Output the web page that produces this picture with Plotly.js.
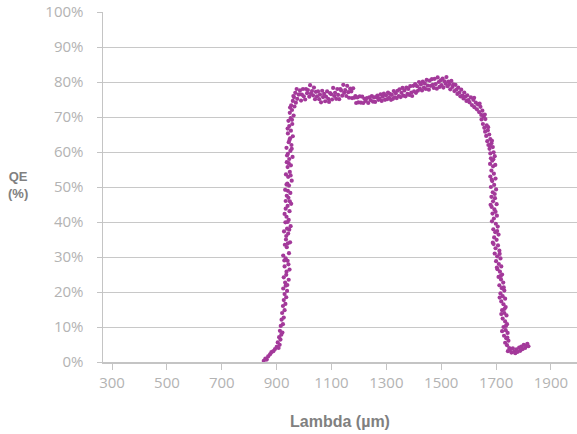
<!DOCTYPE html>
<html>
<head>
<meta charset="utf-8">
<script src="https://cdn.plot.ly/plotly-3.0.1.min.js"></script>
<style>html,body{margin:0;padding:0;background:#fff;}#chart{width:577px;height:434px;}</style>
</head>
<body>
<div id="chart"></div>
<script>
// Rising edge (wavelength, QE %)
const riseX = [853,859,864,869,876,881,888,894,900,907,911,904,914,909,917,912,921,915,923,918,926,920,929,923,932,926,935,929,938,924,933,
931,944,926,936,947,929,940,933,924,945,937,930,949,934,942,927,938,951,932,944,936,929,947,940,953,933,943,937,950,931,945,939,955,942,934,948,940,952,937,946,958,941,950,936,954,944,949,959,941,952,946,957,943,951,962,948,956,953,965,959,970,963,975,968,980,985,973,
939,935,943,928,941,935,946,940,933,948,941,936,951,944,938,955,947,940,956,949,961];
const riseY = [0.3,1.0,0.7,1.6,2.2,2.8,3.1,3.7,4.3,4.0,4.9,5.6,6.4,7.1,7.8,8.9,8.4,10.3,10.8,12.1,12.7,14.0,14.8,16.0,16.6,17.7,18.5,19.4,20.3,21.0,21.8,
22.7,23.5,24.2,25.8,26.4,27.3,28.9,29.6,30.4,31.1,32.8,33.5,34.2,35.0,36.7,37.3,38.1,38.8,39.9,40.6,41.5,42.3,43.1,44.6,45.2,46.0,46.9,47.5,48.3,49.2,50.4,51.0,51.8,52.9,53.6,54.3,55.7,56.2,57.1,58.0,58.6,59.5,60.3,61.2,62.0,62.8,63.9,64.5,65.3,66.1,67.4,68.0,68.9,69.7,70.4,71.2,72.0,73.3,73.0,74.6,74.1,75.7,75.2,76.9,76.4,77.6,78.0,
22.0,24.9,27.9,29.0,33.9,36.0,37.8,40.0,43.8,45.9,48.9,50.7,53.3,56.8,59.0,60.9,63.4,66.7,69.2,72.7,76.0];

// Plateau
const plateauX = [985,989,992,996,999,1004,1007,1011,1014,1019,1022,1025,1029,1033,1036,1040,1043,1047,1051,1055,1058,1062,1066,1069,1073,1077,1080,1084,1088,1091,1095,1099,1102,1106,1110,1113,1117,1121,1124,1128,1132,1135,1139,1143,1146,1150,1154,1157,1161,1164,1168,1172,1175,1179,1183,1187,1190,1194,1198,1203,1207,1212,1216,1220,1225,1229,1234,1238,1243,1247,1251,1255,1259,1263,1267,1271,1275,1279,1283,1287,1291,1295,1299,1303,1306,1310,1313,1317,1320,1324,1327,1331,1334,1338,1341,1345,1348,1352,1355,1359,1362,1366,1370,1373,1377,1380,1384,1387,1391,1394,1398,1401,1405,1408,1412,1415,1419,1422,1426,1430,1433,1437,1440,1444,1447,1451,1455,1458,1462,1466,1469,1473,1476,1480,1484,1487,1491,1494,1498,1501,1505,1508,1512,1516,1519,1523,1526,1530,1533,1537,1541,1544,1548,1552,1555,1559,1562,1566,1570,1573,1577,1581,1584,1588,1592,1595,1599];
const plateauY = [76.5,74.7,76.4,78.0,75.9,75.0,78.0,76.8,77.7,75.8,79.1,76.7,77.4,76.2,78.4,75.1,77.2,75.9,77.3,75.1,76.4,74.2,77.5,75.7,76.6,74.5,75.8,77.3,75.2,74.3,76.8,76.5,75.0,78.3,76.0,76.9,75.2,78.0,76.3,75.1,78.0,77.6,76.1,79.2,76.9,77.7,76.0,78.9,77.1,75.5,78.1,77.3,75.4,78.2,75.5,76.0,74.0,75.6,74.2,75.9,74.1,75.8,74.0,75.2,74.6,75.4,74.0,75.6,74.8,76.0,74.4,75.6,74.3,75.7,76.1,74.9,75.3,76.5,74.6,75.8,76.7,74.9,76.2,75.1,77.0,75.5,76.6,74.9,76.3,75.2,77.4,75.6,76.8,75.4,77.5,76.0,77.9,75.7,76.9,78.3,76.1,77.6,75.9,78.4,76.6,78.0,76.3,78.8,77.0,76.0,78.9,77.3,79.4,76.9,78.8,77.5,80.0,78.1,79.3,77.6,80.1,78.4,79.6,78.0,80.6,79.0,77.8,80.4,78.9,80.8,79.2,78.3,80.9,79.4,78.1,81.3,80.0,78.6,80.5,79.1,81.0,78.4,80.2,79.5,81.4,78.8,80.1,79.4,77.9,80.3,78.6,79.3,77.4,79.2,77.8,76.6,78.4,77.0,75.9,77.8,76.1,75.3,77.0,75.8,74.6,76.2,74.8];

// Falling edge and tail
const fallX = [1603,1608,1612,1617,1621,1626,1630,1634,1638,1643,1646,1650,1647,1655,1652,1661,1657,1666,1660,1670,1664,1675,1668,1679,1672,1683,1676,1688,1679,1691,1681,1686,1695,1678,1689,1697,1683,1692,1679,1698,1686,1693,1681,1700,1688,1683,1696,1689,1702,1684,1694,1687,1703,1692,1685,1699,1706,1690,1697,1709,1693,1702,1688,1707,1698,1712,1695,1704,1716,1700,1710,1719,1705,1714,1722,1709,1718,1726,1712,1721,1730,1716,1724,1733,1719,1727,1735,1722,1730,1738,1724,1733,1740,1727,1735,1742,1729,1737,1745,1733,1740,1748,1743,1751,1756,1761,1766,1770,1774,1779,1784,1788,1792,1797,1801,1806,1810,1814,1818,
1620,1640,1659,1671,1685,1677,1690,1684,1695,1680,1698,1704,1691,1713,1703,1717,1728,1713,1731,1719,1736,1722,1741];
const fallY = [74.2,75.6,73.4,74.9,72.8,74.1,72.2,73.6,71.4,72.9,70.6,71.8,69.3,70.1,68.0,69.4,66.9,67.6,65.8,66.2,64.6,65.0,63.1,63.7,62.0,62.5,60.9,61.4,59.6,59.9,58.2,57.5,58.8,56.6,55.9,56.3,54.7,53.8,53.0,52.4,51.7,50.6,50.0,49.3,48.5,47.2,46.8,45.9,45.1,44.3,43.6,42.4,41.8,41.0,40.2,39.5,38.7,37.9,37.1,36.4,35.6,34.9,34.1,33.3,32.5,31.8,31.0,30.2,29.6,28.8,28.0,27.3,26.5,25.8,25.0,24.3,23.6,22.7,21.9,21.1,20.4,19.6,18.8,18.1,17.3,16.5,15.7,14.8,14.0,13.3,12.4,11.6,10.8,10.0,9.1,8.3,7.5,6.8,6.1,5.5,4.8,4.0,3.1,3.5,2.7,3.9,3.0,2.5,3.6,2.9,4.1,3.2,4.4,3.7,4.9,4.0,4.6,5.2,4.5,
75.5,73.8,70.7,67.1,63.2,61.9,57.9,52.1,48.0,44.9,42.9,37.4,33.7,30.9,27.0,24.6,21.3,18.4,15.2,13.7,10.3,8.8,7.0];

const xTicks = [300,500,700,900,1100,1300,1500,1700,1900];
const yTicks = [0,10,20,30,40,50,60,70,80,90,100];
const yTickText = ["0%","10%","20%","30%","40%","50%","60%","70%","80%","90%","100%"];

const xs = riseX.concat(plateauX, fallX);
const ys = riseY.concat(plateauY, fallY);

const tickFont = {family: "Open Sans, sans-serif", size: 15, color: "#b3b3b3"};
const axisGray = "#c4c4c4";

Plotly.newPlot("chart", [{
  type: "scatter", mode: "markers", x: xs, y: ys,
  marker: {size: 4.2, color: "#a3399a"},
  cliponaxis: false, hoverinfo: "skip"
}], {
  width: 577, height: 434,
  margin: {l: 103, r: 0, t: 12, b: 72},
  paper_bgcolor: "#ffffff", plot_bgcolor: "#ffffff",
  showlegend: false,
  xaxis: {
    range: [267, 1995], tickmode: "array", tickvals: xTicks,
    ticks: "outside", ticklen: 6, tickwidth: 1, tickcolor: axisGray,
    showline: true, linecolor: axisGray, linewidth: 1.5,
    showgrid: false, zeroline: false, tickfont: tickFont,
    title: {text: "<b>Lambda (µm)</b>", font: {family: "Liberation Sans, Arial, sans-serif", size: 16, color: "#808080"}, standoff: 25}
  },
  yaxis: {
    range: [0, 100], tickmode: "array", tickvals: yTicks, ticktext: yTickText,
    ticks: "outside", ticklen: 5, tickwidth: 1, tickcolor: axisGray,
    showline: true, linecolor: axisGray, linewidth: 1.5,
    showgrid: true, gridcolor: "#c8c8c8", gridwidth: 1,
    zeroline: false, tickfont: tickFont, ticklabelstandoff: 10
  },
  annotations: [{
    text: "<b>QE<br>(%)</b>", xref: "paper", yref: "paper",
    x: -0.18, y: 0.506, xanchor: "center", yanchor: "middle", showarrow: false,
    font: {family: "Liberation Sans, Arial, sans-serif", size: 13, color: "#808080"}
  }]
}, {displayModeBar: false, staticPlot: true});
</script>
</body>
</html>
